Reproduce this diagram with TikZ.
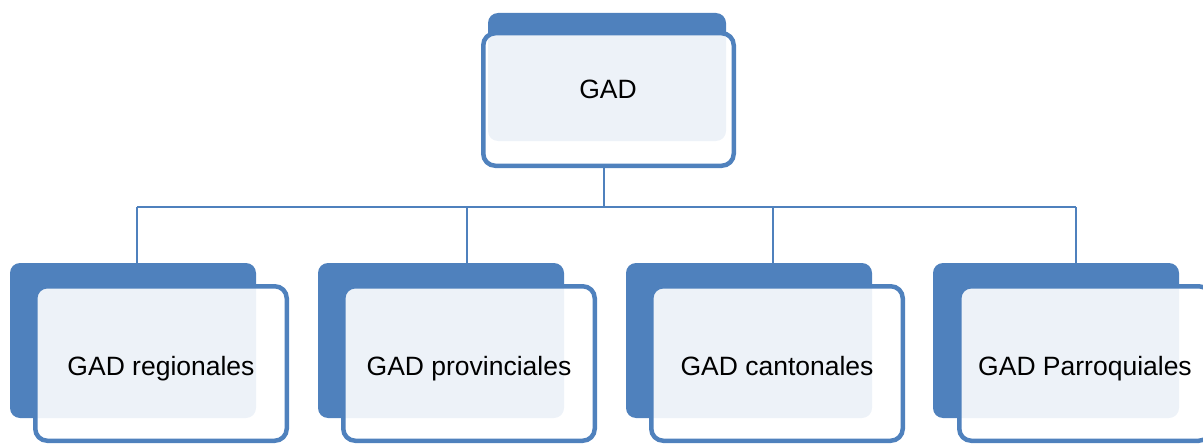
\documentclass[tikz,border=0pt]{standalone}
\usepackage{fontspec}
\setmainfont{Liberation Sans}
\definecolor{gblue}{HTML}{4F81BD}
\begin{document}
\begin{tikzpicture}[x=1pt,y=-1pt,
  backbox/.style={fill=gblue, rounded corners=10pt, inner sep=0pt, outer sep=0pt, anchor=north west},
  frontbox/.style={draw=gblue, line width=4.5pt, fill=white, fill opacity=0.9, text opacity=1, rounded corners=12pt, inner sep=0pt, outer sep=0pt, text height=27pt, text depth=4pt, font=\fontsize{26.5}{30}\selectfont},
  conn/.style={draw=gblue, line width=2pt},
  lbl/.style={font=\fontsize{26.5}{30}\selectfont, text=black, inner sep=0pt}]
\useasboundingbox (0,0) rectangle (1203,444);
\clip (0,0) rectangle (1203,444);
% back boxes
\node[backbox, minimum width=238pt, minimum height=128pt] (b0) at (488,13) {};
\node[backbox, minimum width=246pt, minimum height=155pt] (b1) at (10,263) {};
\node[backbox, minimum width=246pt, minimum height=155pt] (b2) at (318,263) {};
\node[backbox, minimum width=246pt, minimum height=155pt] (b3) at (626,263) {};
\node[backbox, minimum width=246pt, minimum height=155pt] (b4) at (933,263) {};
% connector coordinates
\coordinate (hub) at (603.5,207);
\coordinate (d1) at (137,207);
\coordinate (d2) at (467,207);
\coordinate (d3) at (773,207);
\coordinate (d4) at (1076,207);
% front boxes
\node[frontbox, minimum width=250.5pt, minimum height=132.5pt] (f0) at (608.5,99.5) {};
\draw[conn] (hub |- f0.south) -- (hub);
\draw[conn] (d1) -- (d4);
\draw[conn] (d1) -- (d1 |- b1.north);
\draw[conn] (d2) -- (d2 |- b2.north);
\draw[conn] (d3) -- (d3 |- b3.north);
\draw[conn] (d4) -- (d4 |- b4.north);
\node[frontbox, minimum width=251.5pt, minimum height=154.5pt] (f1) at (161,363.5) {GAD regionales};
\node[frontbox, minimum width=251.5pt, minimum height=154.5pt] (f2) at (469,363.5) {GAD provinciales};
\node[frontbox, minimum width=251.5pt, minimum height=154.5pt] (f3) at (777,363.5) {GAD cantonales};
\node[frontbox, minimum width=251.5pt, minimum height=154.5pt] (f4) at (1085,363.5) {GAD Parroquiales};
\node[lbl] (t0) at (608,89) {GAD};
\end{tikzpicture}
\end{document}
